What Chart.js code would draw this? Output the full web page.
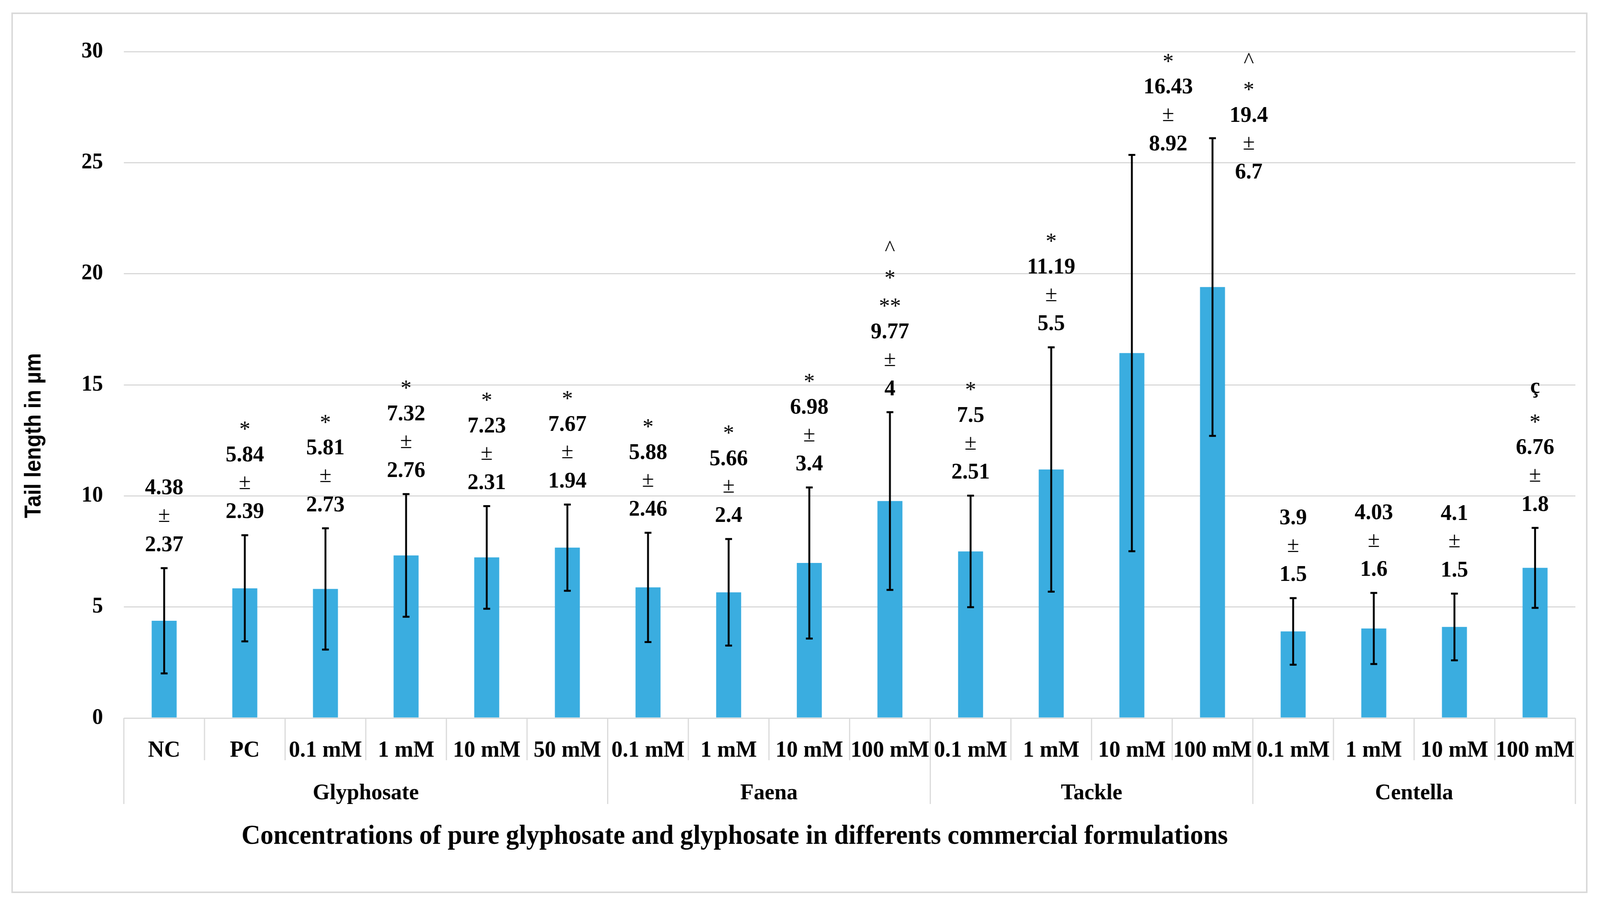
<!DOCTYPE html>
<html>
<head>
<meta charset="utf-8">
<script src="https://cdn.jsdelivr.net/npm/chart.js@4.4.1/dist/chart.umd.min.js"></script>
<style>
  html, body { margin: 0; padding: 0; background: #fff; overflow: hidden; }
  #myChart { display: block; width: 100vw; height: 100vh; }
</style>
</head>
<body>
<canvas id="myChart" width="4225" height="2314" style="width:100vw;height:100vh"></canvas>
<script>
const categories = ['NC', 'PC', '0.1 mM', '1 mM', '10 mM', '50 mM',
  '0.1 mM', '1 mM', '10 mM', '100 mM',
  '0.1 mM', '1 mM', '10 mM', '100 mM',
  '0.1 mM', '1 mM', '10 mM', '100 mM']
const groups = ['Glyphosate', 'Faena', 'Tackle', 'Centella']
const groupSizes = [6, 4, 4, 4]
const means = [4.38, 5.84, 5.81, 7.32, 7.23, 7.67, 5.88, 5.66, 6.98, 9.77, 7.5, 11.19, 16.43, 19.4, 3.9, 4.03, 4.1, 6.76]
const sds = [2.37, 2.39, 2.73, 2.76, 2.31, 1.94, 2.46, 2.4, 3.4, 4, 2.51, 5.5, 8.92, 6.7, 1.5, 1.6, 1.5, 1.8]
const marks = [[], ['*'], ['*'], ['*'], ['*'], ['*'], ['*'], ['*'], ['*'], ['^', '*', '**'],
  ['*'], ['*'], ['*'], ['^', '*'], [], [], [], ['ç', '*']]
const yTicks = [0, 5, 10, 15, 20, 25, 30]

const serif = '"Liberation Serif", "Times New Roman", serif'
const gridGrey = '#d9d9d9'

// draw text so that its visible ink is centred on y
const centredText = (ctx, txt, x, y) => {
  const m = ctx.measureText(txt)
  ctx.textBaseline = 'alphabetic'
  ctx.fillText(txt, x, y + (m.actualBoundingBoxAscent - m.actualBoundingBoxDescent) / 2)
}

const extras = {
  id: 'extras',
  afterDatasetsDraw(chart) {
    const ctx = chart.ctx
    const x = chart.scales.x
    const y = chart.scales.y
    const area = chart.chartArea
    const cw = (area.right - area.left) / categories.length

    // error bars
    ctx.save()
    ctx.strokeStyle = '#000'
    ctx.lineWidth = 5
    means.forEach((m, i) => {
      const px = x.getPixelForValue(i)
      const top = y.getPixelForValue(m + sds[i])
      const bot = y.getPixelForValue(m - sds[i])
      ctx.beginPath()
      ctx.moveTo(px, top); ctx.lineTo(px, bot)
      ctx.moveTo(px - 9, top); ctx.lineTo(px + 9, top)
      ctx.moveTo(px - 9, bot); ctx.lineTo(px + 9, bot)
      ctx.stroke()
    })

    // value labels: marks, mean, ±, sd
    ctx.fillStyle = '#000'
    ctx.textAlign = 'center'
    const step = 72.7
    means.forEach((m, i) => {
      const lines = [...marks[i], String(m), '±', String(sds[i])]
      let px = x.getPixelForValue(i)
      let bottom = y.getPixelForValue(m + sds[i]) - 62
      let topLine = bottom - step * (lines.length - 1)
      if (topLine < area.top + 20) {
        topLine = area.top + 16
        px += cw * 0.45
      }
      lines.forEach((t, k) => {
        const isMark = k < marks[i].length
        ctx.font = (isMark || t === '±' ? '' : 'bold ') + '58px ' + serif
        if (t === 'ç') ctx.font = 'bold 58px ' + serif
        centredText(ctx, t, px, topLine + k * step)
      })
    })
    ctx.restore()
  },
  afterDraw(chart) {
    const ctx = chart.ctx
    const area = chart.chartArea
    const cw = (area.right - area.left) / categories.length
    ctx.save()

    // outer frame
    ctx.strokeStyle = gridGrey
    ctx.lineWidth = 4
    ctx.strokeRect(32, 34, 4158, 2250)

    // category and group separators under the axis
    ctx.lineWidth = 3
    const groupEdges = [0]
    groupSizes.reduce((acc, n) => { groupEdges.push(acc + n); return acc + n }, 0)
    for (let i = 0; i <= categories.length; i++) {
      const px = area.left + i * cw
      const long = groupEdges.includes(i)
      ctx.beginPath()
      ctx.moveTo(px, area.bottom)
      ctx.lineTo(px, area.bottom + (long ? 220 : 108))
      ctx.stroke()
    }

    // group names
    ctx.fillStyle = '#000'
    ctx.textAlign = 'center'
    ctx.textBaseline = 'alphabetic'
    ctx.font = 'bold 58px ' + serif
    groups.forEach((g, k) => {
      const mid = area.left + cw * (groupEdges[k] + groupEdges[k + 1]) / 2
      ctx.fillText(g, mid, area.bottom + 208)
    })

    // x axis title
    ctx.font = 'bold 69px ' + serif
    ctx.fillText('Concentrations of pure glyphosate and glyphosate in differents commercial formulations', 1940, 2160)

    // y axis title
    ctx.translate(91, 1115)
    ctx.rotate(-Math.PI / 2)
    ctx.scale(0.87, 1)
    ctx.font = 'bold 62px "Liberation Sans", Arial, sans-serif'
    centredText(ctx, 'Tail length in µm', 0, 0)
    ctx.restore()
  }
}

const data = {
  labels: categories,
  datasets: [{
    type: 'bar',
    label: 'Tail length',
    data: means,
    backgroundColor: '#3aade0',
    categoryPercentage: 1,
    barPercentage: 0.31
  }]
}

const options = {
  responsive: false,
  animation: false,
  devicePixelRatio: 1,
  layout: { padding: { top: 132, right: 65, left: 0, bottom: 0 } },
  plugins: { legend: { display: false }, tooltip: { enabled: false } },
  scales: {
    x: {
      grid: { display: false, drawTicks: false },
      border: { display: false },
      ticks: {
        autoSkip: false, maxRotation: 0, minRotation: 0,
        color: '#000', padding: 48,
        font: { family: serif, size: 59, weight: 'bold' }
      },
      afterFit: (s) => { s.height = 476 }
    },
    y: {
      min: 0,
      max: 30,
      afterBuildTicks: (s) => { s.ticks = yTicks.map(v => ({ value: v })) },
      grid: { color: gridGrey, lineWidth: 3, drawTicks: false },
      border: { display: false },
      ticks: {
        color: '#000', padding: 55,
        font: { family: serif, size: 57, weight: 'bold' }
      },
      afterFit: (s) => { s.width = 327 }
    }
  }
}

const myChart = new Chart(document.getElementById('myChart'), {
  data: data,
  options: options,
  plugins: [extras]
})
</script>
</body>
</html>
